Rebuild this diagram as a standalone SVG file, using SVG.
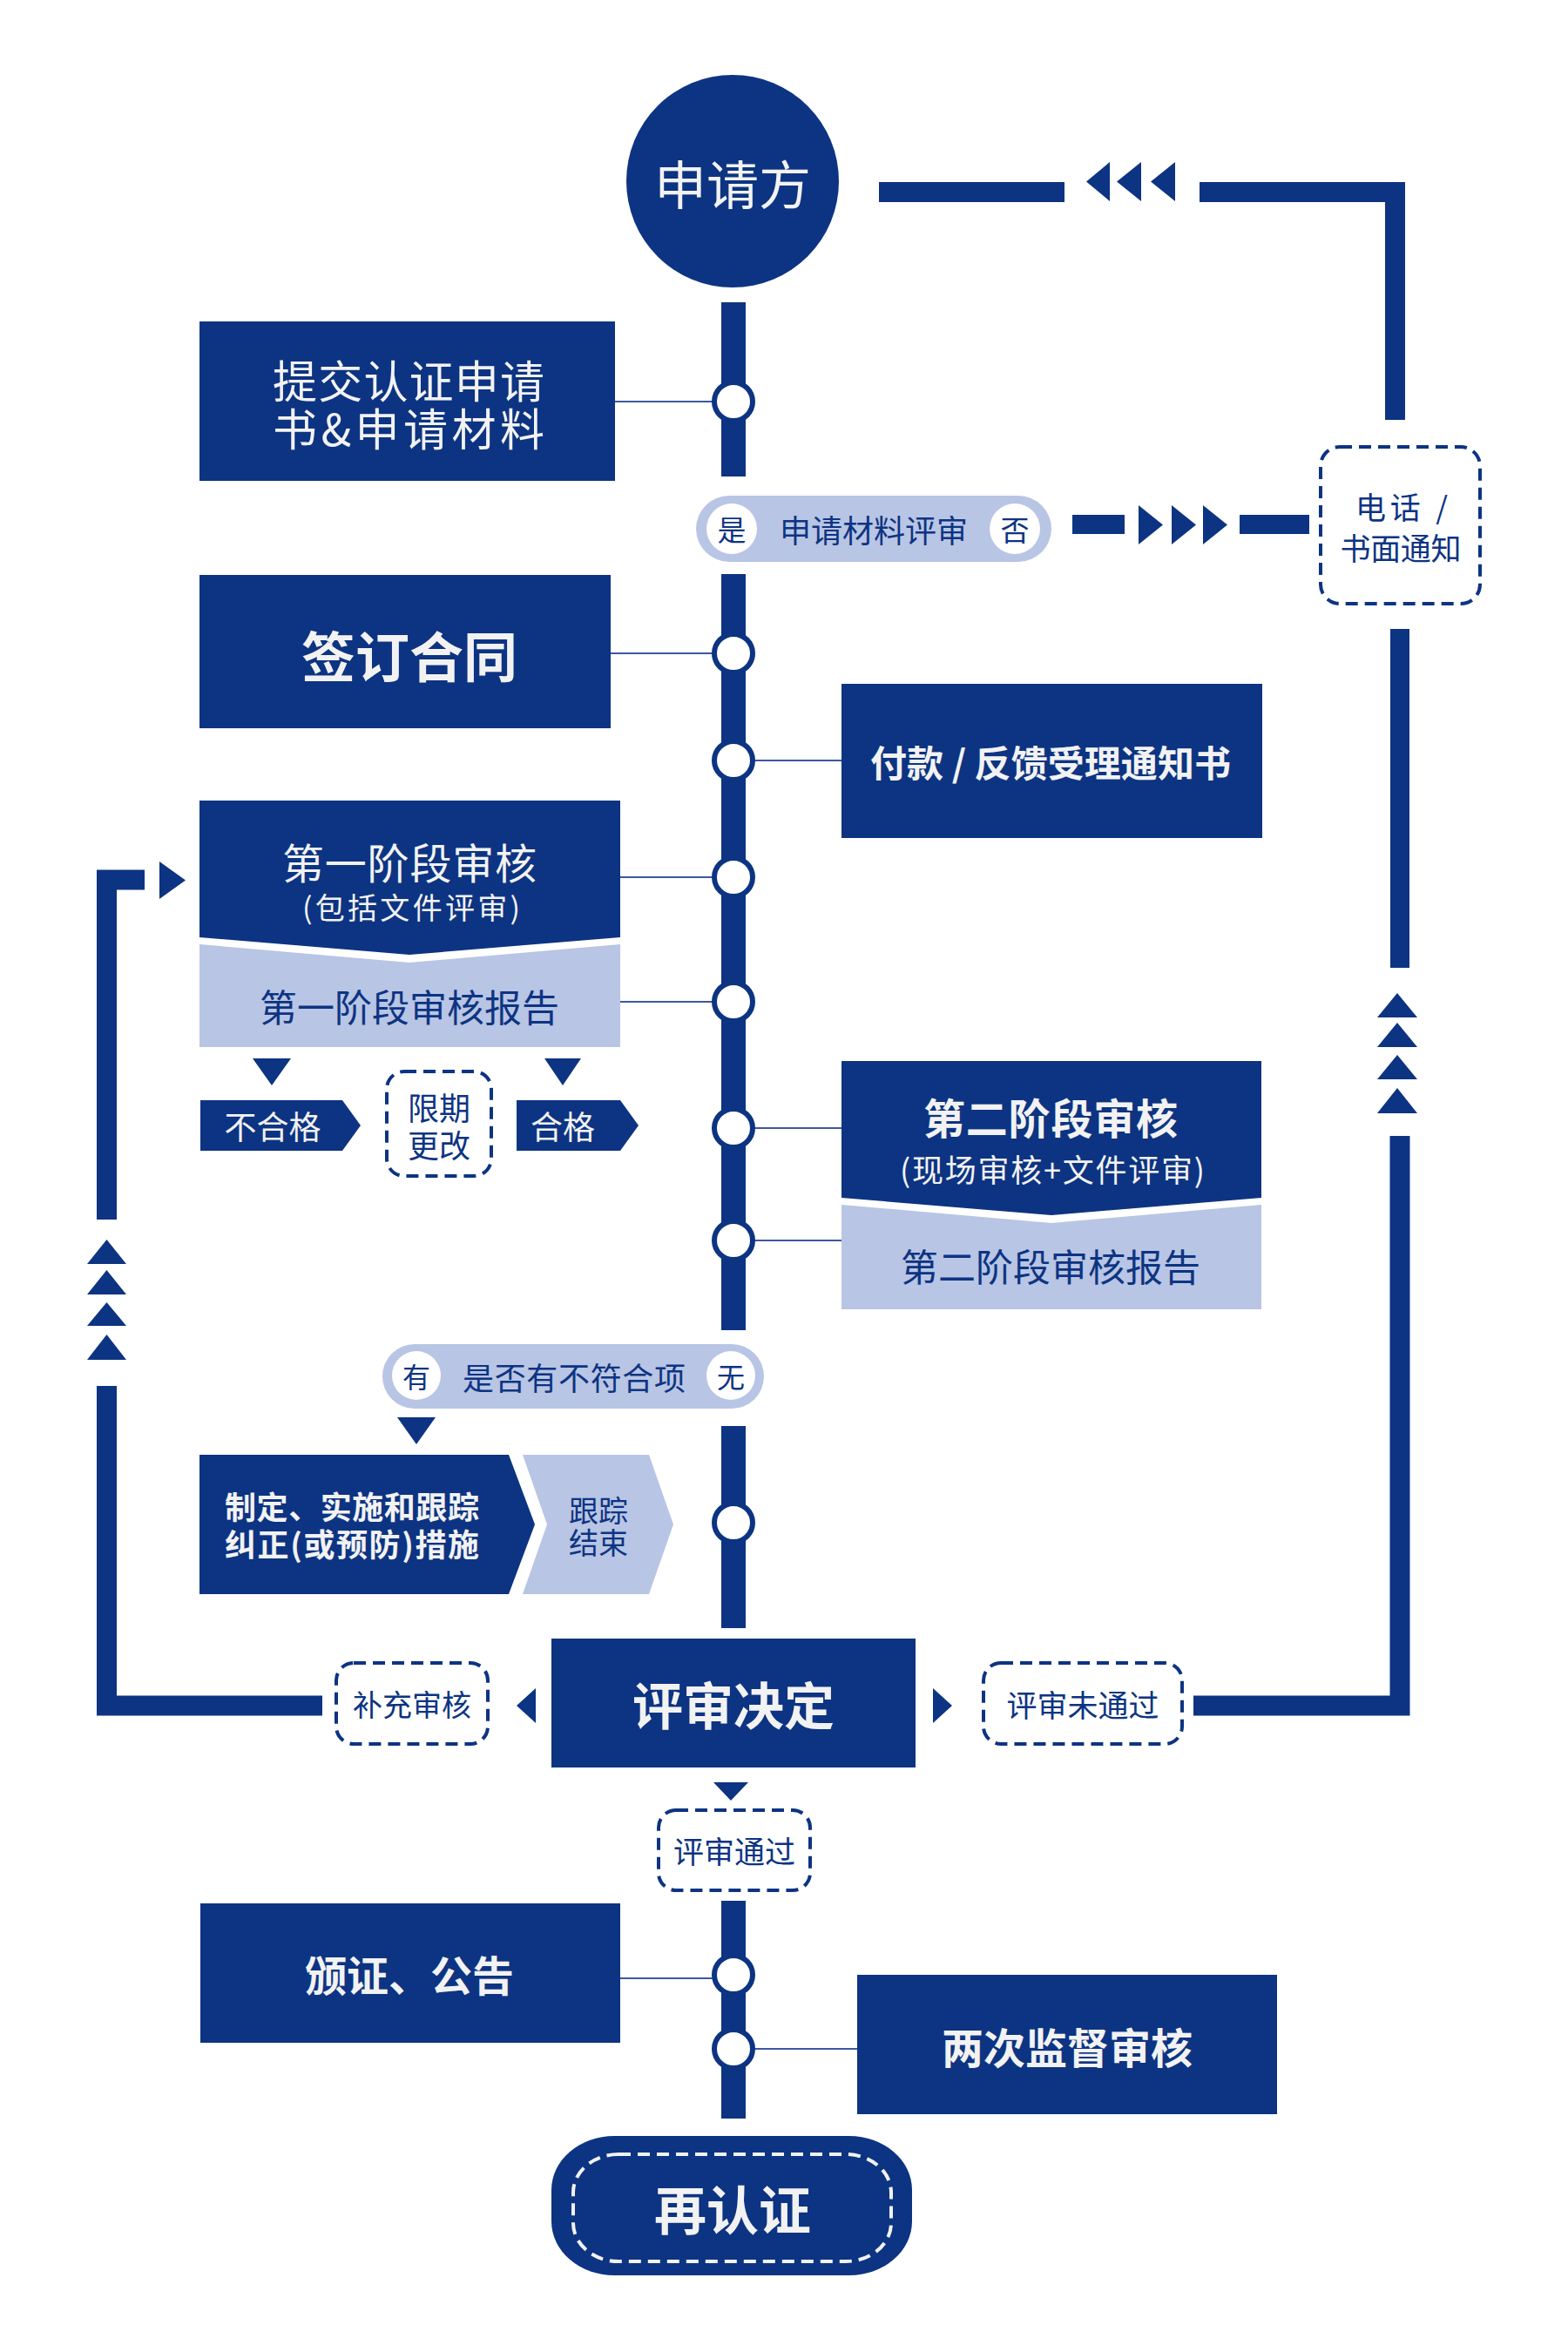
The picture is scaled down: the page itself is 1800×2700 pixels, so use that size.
<svg xmlns="http://www.w3.org/2000/svg" width="1800" height="2700" viewBox="0 0 1800 2700">
<defs>
<style>
text{font-family:"Noto Sans CJK SC","Noto Sans",sans-serif;text-anchor:middle;dominant-baseline:central}
.dk{fill:#0d3482}
.lt{fill:#b8c5e4}
.w{fill:#f2f2f2}
.b{fill:#0d3482}
.bold{font-weight:700}
.node{fill:#ffffff;stroke:#0d3482;stroke-width:6}
.link{stroke:#3d58a0;stroke-width:2;fill:none}
.dash{fill:#ffffff;stroke:#0d3482;stroke-width:4;stroke-dasharray:14 8}
.bar{fill:none;stroke:#0d3482;stroke-width:23;stroke-linejoin:miter;stroke-linecap:butt}
</style>
</defs>
<rect width="1800" height="2700" fill="#ffffff"/>

<g id="connectors">
  <rect class="dk" x="828" y="347" width="28" height="200"/>
  <rect class="dk" x="828" y="659" width="28" height="868"/>
  <rect class="dk" x="828" y="1637" width="28" height="232"/>
  <rect class="dk" x="828" y="2182" width="28" height="250"/>
  <line class="link" x1="706" y1="461" x2="820" y2="461"/>
  <line class="link" x1="701" y1="750" x2="820" y2="750"/>
  <line class="link" x1="864" y1="873" x2="966" y2="873"/>
  <line class="link" x1="712" y1="1007" x2="820" y2="1007"/>
  <line class="link" x1="712" y1="1150" x2="820" y2="1150"/>
  <line class="link" x1="864" y1="1295" x2="966" y2="1295"/>
  <line class="link" x1="864" y1="1424" x2="966" y2="1424"/>
  <line class="link" x1="712" y1="2271" x2="820" y2="2271"/>
  <line class="link" x1="864" y1="2352" x2="984" y2="2352"/>
  <rect class="dk" x="1009" y="209" width="213" height="23"/>
  <polygon class="dk" points="1274,186 1274,231 1247,208.5"/>
  <polygon class="dk" points="1310,186 1310,231 1282,208.5"/>
  <polygon class="dk" points="1349,186 1349,231 1321,208.5"/>
  <path class="bar" d="M1377,220.5 H1601.5 V482"/>
  <rect class="dk" x="1231" y="591" width="60" height="22"/>
  <polygon class="dk" points="1307,580 1307,625 1335,602.5"/>
  <polygon class="dk" points="1345,580 1345,625 1373,602.5"/>
  <polygon class="dk" points="1381,580 1381,625 1409,602.5"/>
  <rect class="dk" x="1423" y="591" width="80" height="22"/>
  <rect class="dk" x="1596" y="722" width="22" height="389"/>
  <polygon class="dk" points="1581,1168 1627,1168 1604,1140"/>
  <polygon class="dk" points="1581,1202 1627,1202 1604,1174"/>
  <polygon class="dk" points="1581,1239 1627,1239 1604,1211"/>
  <polygon class="dk" points="1581,1278 1627,1278 1604,1249"/>
  <path class="bar" d="M1370,1958 H1607 V1304"/>
  <path class="bar" d="M166,1010 H122.5 V1400"/>
  <polygon class="dk" points="183,989 183,1032 213,1010.5"/>
  <polygon class="dk" points="100,1451 145,1451 122.5,1423"/>
  <polygon class="dk" points="100,1486 145,1486 122.5,1458"/>
  <polygon class="dk" points="100,1522 145,1522 122.5,1495"/>
  <polygon class="dk" points="100,1561 145,1561 122.5,1532"/>
  <path class="bar" d="M122.5,1591 V1958 H370"/>
  <polygon class="dk" points="290,1215 334,1215 312,1246"/>
  <polygon class="dk" points="625,1215 667,1215 646,1246"/>
  <polygon class="dk" points="456,1627 500,1627 478,1658"/>
  <polygon class="dk" points="615,1938 615,1978 593,1958"/>
  <polygon class="dk" points="1071,1938 1071,1978 1093,1958"/>
  <polygon class="dk" points="819,2046 859,2046 839,2067"/>
  <circle class="node" cx="842" cy="461" r="22"/>
  <circle class="node" cx="842" cy="750" r="22"/>
  <circle class="node" cx="842" cy="873" r="22"/>
  <circle class="node" cx="842" cy="1007" r="22"/>
  <circle class="node" cx="842" cy="1150" r="22"/>
  <circle class="node" cx="842" cy="1295" r="22"/>
  <circle class="node" cx="842" cy="1424" r="22"/>
  <circle class="node" cx="842" cy="1748" r="22"/>
  <circle class="node" cx="842" cy="2267" r="22"/>
  <circle class="node" cx="842" cy="2352" r="22"/>
</g>

<g id="applicant">
  <circle class="dk" cx="841" cy="208" r="122"/>
  <text class="w" x="841" y="208" font-size="60">申请方</text>
</g>

<g id="submit">
  <rect class="dk" x="229" y="369" width="477" height="183"/>
  <text class="w" x="469" y="435" font-size="51" textLength="312" lengthAdjust="spacing">提交认证申请</text>
  <text class="w" x="469" y="490" font-size="51" textLength="312" lengthAdjust="spacing">书&amp;申请材料</text>
</g>

<g id="review-materials">
  <rect class="lt" x="799" y="569" width="408" height="76" rx="38"/>
  <circle fill="#ffffff" cx="840" cy="607" r="29"/>
  <circle fill="#ffffff" cx="1165" cy="607" r="29"/>
  <text class="b" x="840" y="607" font-size="33">是</text>
  <text class="b" x="1165" y="607" font-size="33">否</text>
  <text class="b" x="1003" y="607" font-size="36" textLength="216" lengthAdjust="spacing">申请材料评审</text>
</g>

<g id="notify">
  <rect class="dash" x="1516" y="513" width="183" height="180" rx="22"/>
  <text class="b" x="1609" y="580" font-size="35" textLength="106" lengthAdjust="spacing">电话 /</text>
  <text class="b" x="1608" y="627" font-size="35" textLength="139" lengthAdjust="spacing">书面通知</text>
</g>

<g id="contract">
  <rect class="dk" x="229" y="660" width="472" height="176"/>
  <text class="w bold" x="470" y="751" font-size="62">签订合同</text>
</g>

<g id="payment">
  <rect class="dk" x="966" y="785" width="483" height="177"/>
  <text class="w bold" x="1206" y="873" font-size="42" textLength="414" lengthAdjust="spacing">付款 / 反馈受理通知书</text>
</g>

<g id="stage1">
  <polygon class="dk" points="229,919 712,919 712,1076 470,1096 229,1076"/>
  <text class="w" x="470" y="988" font-size="48" textLength="292" lengthAdjust="spacing">第一阶段审核</text>
  <text class="w" x="472" y="1040" font-size="34" textLength="250" lengthAdjust="spacing">(包括文件评审)</text>
</g>

<g id="stage1-report">
  <polygon class="lt" points="229,1084 470,1105 712,1084 712,1202 229,1202"/>
  <text class="b" x="470" y="1154" font-size="43">第一阶段审核报告</text>
</g>

<g id="fail">
  <polygon class="dk" points="230,1263 393,1263 414,1292 393,1321 230,1321"/>
  <text class="w" x="313" y="1292" font-size="37">不合格</text>
</g>

<g id="rectify">
  <rect class="dash" x="444" y="1230" width="120" height="120" rx="20"/>
  <text class="b" x="504" y="1270" font-size="36">限期</text>
  <text class="b" x="504" y="1313" font-size="36">更改</text>
</g>

<g id="pass">
  <polygon class="dk" points="593,1263 712,1263 733,1292 712,1321 593,1321"/>
  <text class="w" x="646" y="1292" font-size="37">合格</text>
</g>

<g id="stage2">
  <polygon class="dk" points="966,1218 1448,1218 1448,1375 1207,1395 966,1375"/>
  <text class="w bold" x="1206" y="1281" font-size="48" textLength="292" lengthAdjust="spacing">第二阶段审核</text>
  <text class="w" x="1208" y="1341" font-size="36" textLength="350" lengthAdjust="spacing">(现场审核+文件评审)</text>
</g>

<g id="stage2-report">
  <polygon class="lt" points="966,1383 1207,1404 1448,1383 1448,1503 966,1503"/>
  <text class="b" x="1206" y="1452" font-size="43">第二阶段审核报告</text>
</g>

<g id="nonconformity">
  <rect class="lt" x="439" y="1543" width="438" height="74" rx="37"/>
  <circle fill="#ffffff" cx="478" cy="1579" r="28"/>
  <circle fill="#ffffff" cx="839" cy="1579" r="28"/>
  <text class="b" x="478" y="1579" font-size="32">有</text>
  <text class="b" x="839" y="1579" font-size="32">无</text>
  <text class="b" x="659" y="1580" font-size="36" textLength="256" lengthAdjust="spacing">是否有不符合项</text>
</g>

<g id="corrective">
  <polygon class="dk" points="229,1670 584,1670 614,1750 584,1830 229,1830"/>
  <text class="w bold" x="258" y="1728" font-size="36" style="text-anchor:start" textLength="292" lengthAdjust="spacing">制定、实施和跟踪</text>
  <text class="w bold" x="258" y="1771" font-size="36" style="text-anchor:start" textLength="292" lengthAdjust="spacing">纠正(或预防)措施</text>
</g>

<g id="track-end">
  <polygon class="lt" points="600,1670 745,1670 773,1750 745,1830 600,1830 628,1750"/>
  <text class="b" x="687" y="1732" font-size="34">跟踪</text>
  <text class="b" x="687" y="1769" font-size="34">结束</text>
</g>

<g id="decision">
  <rect class="dk" x="633" y="1881" width="418" height="148"/>
  <text class="w bold" x="842" y="1955" font-size="58">评审决定</text>
</g>

<g id="supplement">
  <rect class="dash" x="386" y="1909" width="174" height="93" rx="20"/>
  <text class="b" x="473" y="1955" font-size="34">补充审核</text>
</g>

<g id="not-passed">
  <rect class="dash" x="1129" y="1909" width="228" height="93" rx="20"/>
  <text class="b" x="1243" y="1955" font-size="35">评审未通过</text>
</g>

<g id="passed">
  <rect class="dash" x="756" y="2078" width="174" height="92" rx="20"/>
  <text class="b" x="843" y="2123" font-size="35">评审通过</text>
</g>

<g id="certify">
  <rect class="dk" x="230" y="2185" width="482" height="160"/>
  <text class="w bold" x="470" y="2265" font-size="48">颁证、公告</text>
</g>

<g id="surveillance">
  <rect class="dk" x="984" y="2267" width="482" height="160"/>
  <text class="w bold" x="1225" y="2348" font-size="48">两次监督审核</text>
</g>

<g id="recertify">
  <rect class="dk" x="633" y="2452" width="414" height="160" rx="72" ry="62"/>
  <rect x="658" y="2473" width="365" height="123" rx="52" ry="44" fill="none" stroke="#f2f2f2" stroke-width="4" stroke-dasharray="14 8"/>
  <text class="w bold" x="841" y="2533" font-size="60">再认证</text>
</g>
</svg>
